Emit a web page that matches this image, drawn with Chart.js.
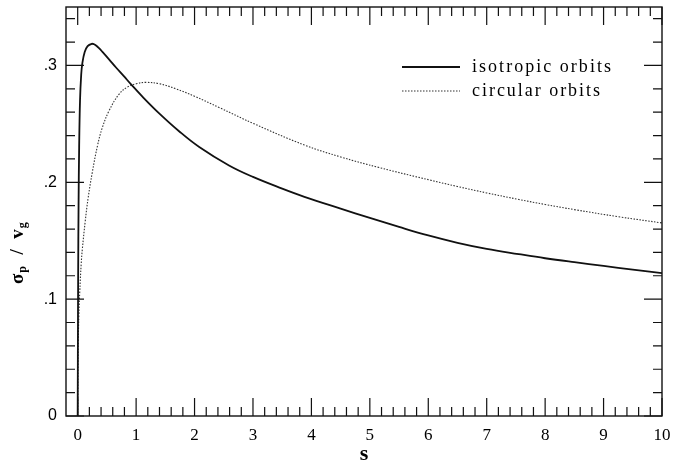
<!DOCTYPE html>
<html><head><meta charset="utf-8">
<script src="https://cdn.jsdelivr.net/npm/chart.js@4/dist/chart.umd.min.js"></script>
<style>html,body{margin:0;padding:0;background:#fff;}#wrap{width:673px;height:467px;position:relative;}</style>
</head><body><div id="wrap"><canvas id="c"></canvas></div>
<script>
const sIso = [0, 0.003, 0.008, 0.015, 0.025, 0.04, 0.06, 0.08, 0.12, 0.17, 0.24, 0.28, 0.32, 0.36, 0.42, 0.54, 0.66, 0.79, 0.91, 1.1, 1.39, 1.74, 2.08, 2.59, 3.0, 3.5, 3.88, 4.5, 5.0, 5.5, 6.0, 6.5, 7.0, 7.55, 8.0, 8.5, 9.0, 9.5, 10];
const vIso = [0, 0.05, 0.12, 0.18, 0.23, 0.27, 0.292, 0.302, 0.3115, 0.3165, 0.3185, 0.3181, 0.3168, 0.315, 0.3118, 0.305, 0.298, 0.2908, 0.284, 0.2737, 0.2592, 0.2435, 0.2302, 0.2144, 0.2046, 0.1946, 0.1876, 0.1775, 0.1695, 0.1618, 0.1545, 0.1482, 0.143, 0.1385, 0.135, 0.1316, 0.1284, 0.1253, 0.1223];
const sCirc = [0, 0.005, 0.01, 0.02, 0.035, 0.06, 0.08, 0.13, 0.18, 0.25, 0.34, 0.42, 0.54, 0.71, 0.85, 1.0, 1.17, 1.4, 1.68, 2.0, 2.42, 3.03, 3.88, 4.5, 5.16, 6.02, 6.5, 7.0, 7.55, 8.0, 8.5, 9.26, 10];
const vCirc = [0, 0.045, 0.065, 0.086, 0.106, 0.13, 0.143, 0.167, 0.187, 0.2085, 0.2315, 0.2465, 0.2615, 0.2755, 0.2815, 0.2843, 0.2855, 0.2843, 0.28, 0.2736, 0.264, 0.2498, 0.2319, 0.2217, 0.2126, 0.202, 0.1964, 0.1909, 0.1853, 0.181, 0.1766, 0.1705, 0.1652];
const xTickValues = [0, 1, 2, 3, 4, 5, 6, 7, 8, 9, 10];
const yTickValues = [0, 0.1, 0.2, 0.3];
const yTickLabels = ['0', '.1', '.2', '.3'];
const seriesLabels = ['isotropic orbits', 'circular orbits'];
const xTitle = 's';

const ink = '#111';

const frameTicks = {
  id: 'frameTicks',
  afterDatasetsDraw(chart) {
    const {ctx, chartArea: a, scales: {x, y}} = chart;
    ctx.save();
    ctx.strokeStyle = ink;
    ctx.lineWidth = 1.4;
    ctx.strokeRect(a.left, a.top, a.right - a.left, a.bottom - a.top);
    ctx.lineWidth = 1.2;
    ctx.beginPath();
    for (let k = 0; k <= 50; k++) {
      const px = x.getPixelForValue(k * 0.2);
      const len = (k % 5 === 0) ? 18 : 9;
      ctx.moveTo(px, a.bottom); ctx.lineTo(px, a.bottom - len);
      ctx.moveTo(px, a.top); ctx.lineTo(px, a.top + len);
    }
    for (let k = 0; k <= 17; k++) {
      const py = y.getPixelForValue(k * 0.02);
      const len = (k % 5 === 0) ? 18 : 9;
      ctx.moveTo(a.left, py); ctx.lineTo(a.left + len, py);
      ctx.moveTo(a.right, py); ctx.lineTo(a.right - len, py);
    }
    ctx.stroke();
    ctx.restore();
  }
};

const innerLegend = {
  id: 'innerLegend',
  afterDatasetsDraw(chart) {
    const {ctx} = chart;
    const x0 = 402, x1 = 460, tx = 472;
    const rows = [67, 91];
    ctx.save();
    ctx.font = '18px "Liberation Serif"';
    ctx.fillStyle = '#000';
    ctx.textBaseline = 'middle';
    chart.data.datasets.forEach((ds, i) => {
      const yy = rows[i];
      ctx.beginPath();
      ctx.strokeStyle = ds.borderColor;
      ctx.lineWidth = ds.borderWidth;
      ctx.setLineDash(ds.borderDash || []);
      ctx.moveTo(x0, yy); ctx.lineTo(x1, yy);
      ctx.stroke();
      ctx.setLineDash([]);
      ctx.letterSpacing = '0px';
      const w = ctx.measureText(ds.label).width;
      const target = i === 0 ? 139 : 128;
      ctx.letterSpacing = ((target - w) / (ds.label.length - 1)).toFixed(2) + 'px';
      ctx.fillText(ds.label, tx, yy);
    });
    ctx.restore();
  }
};

const yTitlePlugin = {
  id: 'yTitlePlugin',
  afterDraw(chart) {
    const {ctx} = chart;
    ctx.save();
    ctx.translate(23, 284);
    ctx.rotate(-Math.PI / 2);
    ctx.fillStyle = '#000';
    ctx.textBaseline = 'alphabetic';
    let cx = 0;
    const big = 'bold 19px "Liberation Serif"';
    const small = 'bold 12px "Liberation Serif"';
    const parts = [['σ', big, 0], ['p', small, 3], ['  /  ', big, 0], ['v', big, 0], ['g', small, 3]];
    parts.forEach(([t, f, dy]) => {
      ctx.font = f;
      ctx.fillText(t, cx, dy);
      cx += ctx.measureText(t).width + (dy ? 2 : 1);
    });
    ctx.restore();
  }
};

new Chart(document.getElementById('c'), {
  type: 'scatter',
  data: {
    datasets: [
      {
        label: seriesLabels[0],
        data: sIso.map((s, i) => ({x: s, y: vIso[i]})),
        showLine: true, pointRadius: 0, borderColor: ink, borderWidth: 1.8,
        tension: 0.4, fill: false
      },
      {
        label: seriesLabels[1],
        data: sCirc.map((s, i) => ({x: s, y: vCirc[i]})),
        showLine: true, pointRadius: 0, borderColor: '#333', borderWidth: 1.1,
        borderDash: [1.5, 1.5], tension: 0.4, fill: false
      }
    ]
  },
  options: {
    responsive: true, maintainAspectRatio: false, animation: false,
    layout: {padding: {top: 7, right: 11, left: 0, bottom: 0}},
    plugins: {legend: {display: false}, tooltip: {enabled: false}},
    scales: {
      x: {
        type: 'linear', min: -0.2, max: 10,
        afterBuildTicks: (sc) => { sc.ticks = xTickValues.map(v => ({value: v})); },
        afterFit: (sc) => { sc.height = 51; sc.paddingLeft = 0; sc.paddingRight = 0; },
        grid: {display: false, drawTicks: false},
        border: {display: false},
        ticks: {padding: 9, color: '#000', font: {family: '"Liberation Serif"', size: 17}, callback: (v) => String(v), maxRotation: 0, autoSkip: false},
        title: {display: true, text: xTitle, color: '#000', font: {family: '"Liberation Serif"', size: 22, weight: 'bold', lineHeight: 1}, padding: {top: 0, bottom: 2}}
      },
      y: {
        type: 'linear', min: 0, max: 0.35,
        afterBuildTicks: (sc) => { sc.ticks = yTickValues.map(v => ({value: v})); },
        afterFit: (sc) => { sc.width = 66; sc.paddingTop = 0; sc.paddingBottom = 0; },
        grid: {display: false, drawTicks: false},
        border: {display: false},
        ticks: {padding: 9, color: '#000', font: {family: '"Liberation Sans"', size: 16}, callback: (v) => yTickLabels[yTickValues.findIndex(t => Math.abs(t - v) < 1e-9)], autoSkip: false}
      }
    }
  },
  plugins: [frameTicks, innerLegend, yTitlePlugin]
});
</script></body></html>
